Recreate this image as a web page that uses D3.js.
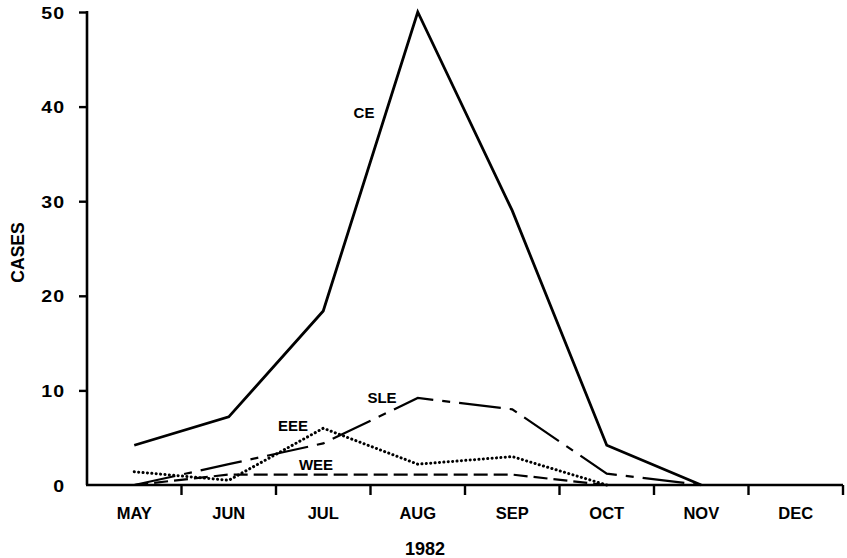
<!DOCTYPE html>
<html>
<head>
<meta charset="utf-8">
<script src="https://cdn.jsdelivr.net/npm/d3@7"></script>
<style>
  html, body { margin: 0; padding: 0; background: #fff; }
  svg { display: block; }
  text { font-family: "Liberation Sans", Arial, sans-serif; font-weight: bold; fill: #000; }
</style>
</head>
<body>
<svg id="chart" width="847" height="558"></svg>
<script>
// ---- data ----
const months = ["MAY", "JUN", "JUL", "AUG", "SEP", "OCT", "NOV", "DEC"];
const yTicks = [0, 10, 20, 30, 40, 50];
const ceValues  = [4.2, 7.2, 18.4, 50, 29, 4.2, 0];
const sleValues = [0, 2.2, 4.4, 9.2, 8.0, 1.2, 0];
const eeeValues = [1.4, 0.5, 6.0, 2.2, 3.0, 0];
const weeValues = [0, 1.1, 1.1, 1.1, 1.1, 0];
const seriesNames = ["CE", "SLE", "EEE", "WEE"];
const xTitle = "1982";
const yTitle = "CASES";

// ---- layout ----
const svg = d3.select("#chart");
const plotL = 87, plotR = 843, plotT = 12, plotB = 485;

const x = d3.scaleBand().domain(months).range([plotL, plotR]).paddingInner(0).paddingOuter(0);
const y = d3.scaleLinear().domain([0, 50]).range([plotB, plotT]);
const cx = m => x(m) + x.bandwidth() / 2;

// ---- axes ----
const yAxis = d3.axisLeft(y).tickValues(yTicks).tickSize(8).tickPadding(6).tickFormat(d3.format("d"));
const gy = svg.append("g").attr("transform", `translate(${plotL},0)`).call(yAxis);
gy.select(".domain").attr("stroke", "#000").attr("stroke-width", 2.6).attr("d", `M0,${plotT - 1}V${plotB}`);
gy.selectAll(".tick line").attr("stroke", "#000").attr("stroke-width", 2.4)
  .filter(d => d === 0).remove();
gy.selectAll(".tick text")
  .attr("font-family", "'DejaVu Sans', sans-serif")
  .attr("font-weight", "bold")
  .attr("font-size", 17)
  .attr("letter-spacing", 1)
  .attr("x", -19)
  .attr("dy", "0.36em")
  .attr("transform", "scale(1.15,1)");

// x axis baseline
const xAxis = d3.axisBottom(x).tickSize(0).tickPadding(32);
const gx = svg.append("g").attr("transform", `translate(0,${plotB})`).call(xAxis);
gx.select(".domain").attr("stroke", "#000").attr("stroke-width", 2.6).attr("d", `M${plotL - 1},0H${plotR}`);
gx.selectAll(".tick text").attr("font-size", 16.5).attr("dy", "0.1em");

// tick marks at month boundaries
const boundaries = months.slice(1).map(m => x(m)).concat([x(months[months.length - 1]) + x.bandwidth()]);
gx.selectAll("line.bound").data(boundaries).enter().append("line")
  .attr("class", "bound")
  .attr("x1", d => d).attr("x2", d => d)
  .attr("y1", 0).attr("y2", 10)
  .attr("stroke", "#000").attr("stroke-width", 2.4);

// axis titles
svg.append("text")
  .attr("x", (plotL + plotR) / 2 - 40).attr("y", 555)
  .attr("text-anchor", "middle").attr("font-size", 18)
  .text(xTitle);
svg.append("text")
  .attr("transform", `translate(24,${(222 + 283) / 2}) rotate(-90)`)
  .attr("text-anchor", "middle").attr("font-size", 17.5)
  .text(yTitle);

// ---- lines ----
const line = d3.line().x((d, i) => cx(months[i])).y(d => y(d)).curve(d3.curveLinear);

svg.append("path").datum(weeValues).attr("d", line)
  .attr("fill", "none").attr("stroke", "#000").attr("stroke-width", 2.2)
  .attr("stroke-dasharray", "14,6");

svg.append("path").datum(sleValues).attr("d", line)
  .attr("fill", "none").attr("stroke", "#000").attr("stroke-width", 2.2)
  .attr("stroke-dasharray", "42,9,8,9");

svg.append("path").datum(eeeValues).attr("d", line)
  .attr("fill", "none").attr("stroke", "#000").attr("stroke-width", 3)
  .attr("stroke-linecap", "round")
  .attr("stroke-dasharray", "0.1,4.3");

svg.append("path").datum(ceValues).attr("d", line)
  .attr("fill", "none").attr("stroke", "#000").attr("stroke-width", 2.8)
  .attr("stroke-linejoin", "miter");

// ---- series labels ----
const labelPos = [
  { name: seriesNames[0], x: 364, y: 118 },
  { name: seriesNames[1], x: 382, y: 403 },
  { name: seriesNames[2], x: 293, y: 431 },
  { name: seriesNames[3], x: 316, y: 470 }
];
svg.selectAll("text.series").data(labelPos).enter().append("text")
  .attr("class", "series")
  .attr("x", d => d.x).attr("y", d => d.y)
  .attr("text-anchor", "middle").attr("font-size", 15)
  .text(d => d.name);
</script>
</body>
</html>
